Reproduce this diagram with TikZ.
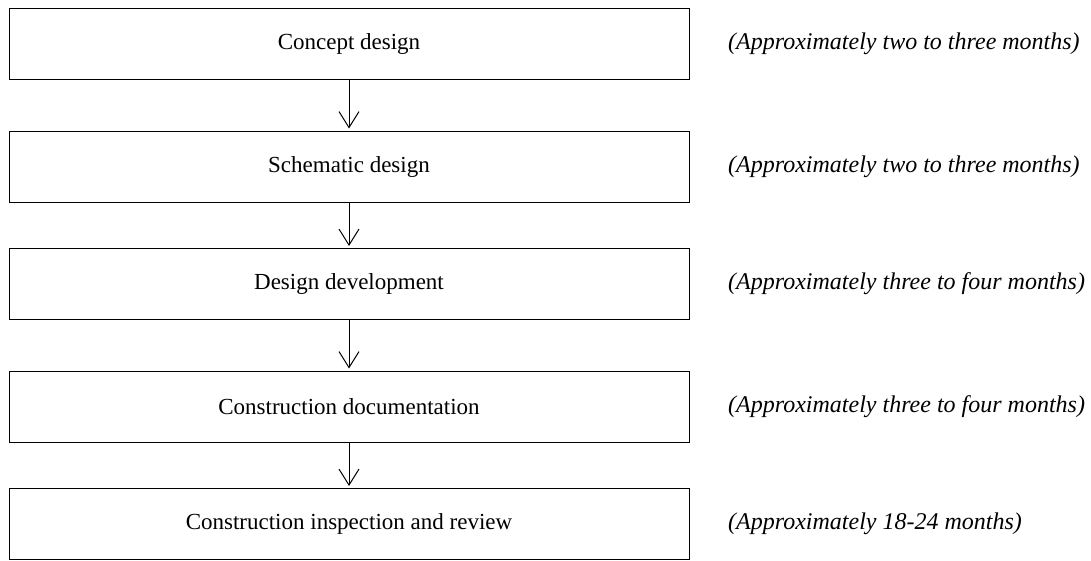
\documentclass[tikz,border=0pt]{standalone}
\usepackage{fontspec}
\setmainfont{Liberation Serif}
\usetikzlibrary{arrows.meta}

\tikzset{
    stage/.style={
        draw,
        rectangle,
        line width=1pt,
        minimum width=680pt,
        minimum height=71pt,
        font=\fontsize{23}{27}\selectfont
    },
    span/.style={anchor=west, inner sep=0pt, font=\fontsize{24}{28}\selectfont\itshape}
}

\begin{document}
\begin{tikzpicture}[x=1pt, y=1pt, >={Straight Barb[length=16pt, width=20pt]}]
    \useasboundingbox (0,0) rectangle (1091,-560);

    \node[stage] (concept) at (349,-43.5) {Concept design};
    \node[stage] (schematic) at (349,-166.5) {Schematic design};
    \node[stage] (development) at (349,-284) {Design development};
    \node[stage] (documentation) at (349,-406.5) {Construction documentation};
    \node[stage] (inspection) at (349,-524) {Construction inspection and review};

    \node[span] (t1) at (728,-43.5) {(Approximately two to three months)};
    \node[span] (t2) at (728,-166.5) {(Approximately two to three months)};
    \node[span] (t3) at (728,-284) {(Approximately three to four months)};
    \node[span] (t4) at (728,-406.5) {(Approximately three to four months)};
    \node[span] (t5) at (728,-524) {(Approximately 18-24 months)};

    \draw[->, line width=1pt, shorten >=2pt] (concept) -- (schematic);
    \draw[->, line width=1pt, shorten >=2pt] (schematic) -- (development);
    \draw[->, line width=1pt, shorten >=2pt] (development) -- (documentation);
    \draw[->, line width=1pt, shorten >=2pt] (documentation) -- (inspection);
\end{tikzpicture}
\end{document}
